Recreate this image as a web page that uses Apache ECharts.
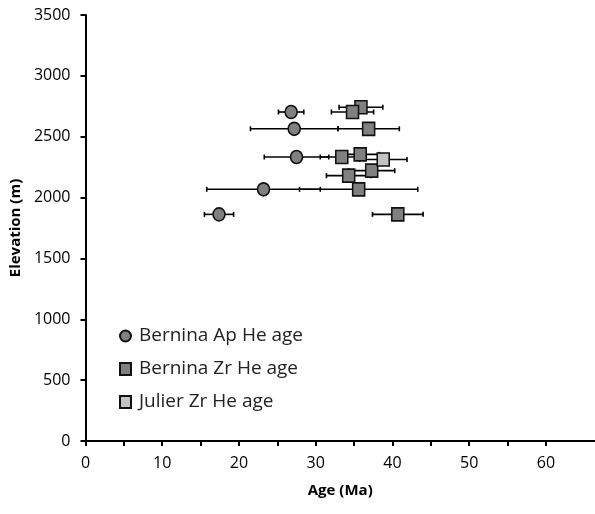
<!DOCTYPE html>
<html>
<head>
<meta charset="utf-8">
<script src="https://cdn.jsdelivr.net/npm/echarts@6/dist/echarts.min.js"></script>
<style>html,body{margin:0;padding:0;background:#fff}#c{width:595px;height:514px}</style>
</head>
<body>
<div id="c"></div>
<script>
// Bernina apatite He ages
const apAge  = [26.8, 27.2, 27.5, 23.2, 17.4];
const apElev = [2703, 2565, 2333, 2068, 1862];
const apErr  = [1.65, 5.7, 4.2, 7.4, 1.9];
// Bernina zircon He ages
const zrAge  = [35.9, 34.8, 36.9, 33.4, 35.8, 37.3, 34.3, 35.6, 40.7];
const zrElev = [2742, 2703, 2565, 2333, 2355, 2221, 2180, 2068, 1862];
const zrErr  = [2.85, 2.75, 4.0, 2.8, 2.5, 3.0, 2.9, 7.7, 3.3];
// Julier zircon He ages
const juAge  = [38.8];
const juElev = [2313];
const juErr  = [3.1];

const seriesNames = ['Bernina Ap He age', 'Bernina Zr He age', 'Julier Zr He age'];
const xTickValues = [0, 5, 10, 15, 20, 25, 30, 35, 40, 45, 50, 55, 60];
const xLabelValues = [0, 10, 20, 30, 40, 50, 60];

function rows(a, e, r) { return a.map((v, i) => [v, e[i], r[i]]); }

const tickFont = {fontFamily: 'Open Sans', fontSize: 16, color: '#000'};

function errRender(params, api) {
  const x = api.value(0), y = api.value(1), e = api.value(2);
  const p1 = api.coord([x - e, y]);
  const p2 = api.coord([x + e, y]);
  const h = 2.5;
  const st = {stroke: '#000', lineWidth: 1.6};
  return {type: 'group', children: [
    {type: 'line', shape: {x1: p1[0], y1: p1[1], x2: p2[0], y2: p2[1]}, style: st},
    {type: 'line', shape: {x1: p1[0], y1: p1[1] - h, x2: p1[0], y2: p1[1] + h}, style: st},
    {type: 'line', shape: {x1: p2[0], y1: p2[1] - h, x2: p2[0], y2: p2[1] + h}, style: st}
  ]};
}

const chart = echarts.init(document.getElementById('c'), null, {renderer: 'canvas'});
chart.setOption({
  animation: false,
  backgroundColor: '#fff',
  grid: {left: 84, right: 0, top: 15, bottom: 73},
  legend: {
    orient: 'vertical', left: 114, top: 321,
    itemWidth: 11, itemHeight: 12, itemGap: 13,
    textStyle: {fontFamily: 'Open Sans', fontSize: 19, color: '#222', lineHeight: 20, padding: [0, 0, 0, 3]},
    data: [
      {name: seriesNames[0], icon: 'circle'},
      {name: seriesNames[1], icon: 'rect'},
      {name: seriesNames[2], icon: 'rect'}
    ]
  },
  xAxis: [{
    type: 'value', min: 0, max: 66.4, interval: 10,
    name: 'Age (Ma)', nameLocation: 'middle', nameGap: 42,
    nameTextStyle: {fontFamily: 'Open Sans', fontSize: 15, fontWeight: 'bold', color: '#000'},
    axisLine: {show: true, onZero: false, lineStyle: {color: '#000', width: 2}},
    axisTick: {show: true, length: 5, lineStyle: {color: '#000', width: 2}, customValues: xTickValues},
    axisLabel: Object.assign({margin: 14, customValues: xLabelValues, formatter: v => String(v)}, tickFont),
    splitLine: {show: false}
  }, {
    type: 'value', min: 0, max: 66.4, position: 'top',
    axisLine: {show: true, lineStyle: {color: '#000', width: 2}},
    axisTick: {show: false}, axisLabel: {show: false}, splitLine: {show: false}
  }],
  yAxis: {
    type: 'value', min: 0, max: 3500, interval: 500,
    name: 'Elevation (m)', nameLocation: 'middle', nameGap: 60, nameRotate: 90,
    nameTextStyle: {fontFamily: 'Open Sans', fontSize: 15, fontWeight: 'bold', color: '#000'},
    axisLine: {show: true, onZero: false, lineStyle: {color: '#000', width: 2}},
    axisTick: {show: true, length: 5, lineStyle: {color: '#000', width: 2}},
    axisLabel: Object.assign({margin: 15, formatter: v => String(v)}, tickFont),
    splitLine: {show: false}
  },
  series: [
    {type: 'custom', name: 'errAp', renderItem: errRender, data: rows(apAge, apElev, apErr), encode: {x: 0, y: 1}, z: 1, clip: false, silent: true},
    {type: 'custom', name: 'errZr', renderItem: errRender, data: rows(zrAge, zrElev, zrErr), encode: {x: 0, y: 1}, z: 1, clip: false, silent: true},
    {type: 'custom', name: 'errJu', renderItem: errRender, data: rows(juAge, juElev, juErr), encode: {x: 0, y: 1}, z: 1, clip: false, silent: true},
    {type: 'scatter', name: seriesNames[0], symbol: 'circle', symbolSize: [12, 13], z: 3,
      itemStyle: {color: '#808080', borderColor: '#111', borderWidth: 1.6, opacity: 1},
      data: apAge.map((v, i) => [v, apElev[i]])},
    {type: 'scatter', name: seriesNames[1], symbol: 'rect', symbolSize: [12, 13], z: 3,
      itemStyle: {color: '#808080', borderColor: '#111', borderWidth: 1.6, opacity: 1},
      data: zrAge.map((v, i) => [v, zrElev[i]])},
    {type: 'scatter', name: seriesNames[2], symbol: 'rect', symbolSize: [12, 13], z: 4,
      itemStyle: {color: '#c3c3c3', borderColor: '#111', borderWidth: 1.6, opacity: 1},
      data: juAge.map((v, i) => [v, juElev[i]])}
  ]
});
</script>
</body>
</html>
